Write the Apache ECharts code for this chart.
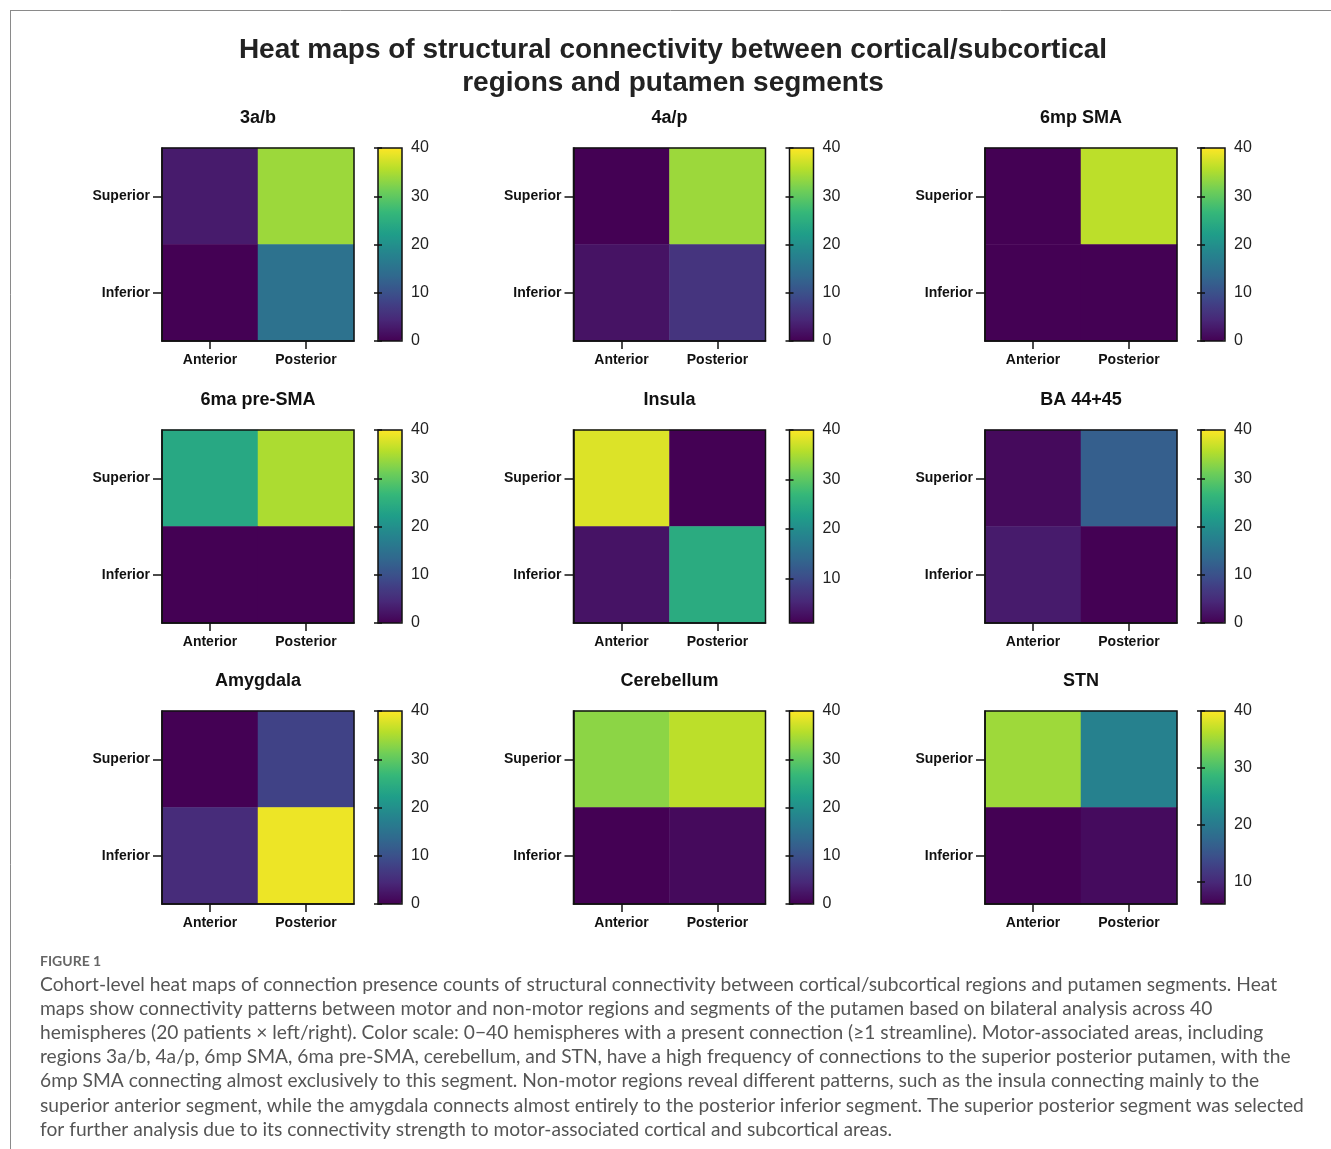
<!DOCTYPE html>
<html>
<head>
<meta charset="utf-8">
<script src="https://cdn.jsdelivr.net/npm/echarts@6/dist/echarts.min.js"></script>
<style>
html, body { margin: 0; padding: 0; background: #fff; }
#main { width: 1331px; height: 1149px; }
</style>
</head>
<body>
<div id="main"></div>
<script>
// regions (one heat map each) and putamen segments
var regions = ['3a/b', '4a/p', '6mp SMA', '6ma pre-SMA', 'Insula', 'BA 44+45', 'Amygdala', 'Cerebellum', 'STN'];
var segX = ['Anterior', 'Posterior'];
var segY = ['Inferior', 'Superior'];

// hemisphere counts
var superiorAnterior  = [3, 0, 0, 24, 38, 1, 0, 33, 35];
var superiorPosterior = [34, 34, 36, 35, 1, 12, 8, 36, 21];
var inferiorAnterior  = [0, 2, 0, 0, 3, 3, 5, 0, 6];
var inferiorPosterior = [15, 6, 0, 0, 25, 0, 39, 1, 7];

// colour bar range and tick labels per panel
var scaleMin = [0, 0, 0, 0, 1, 0, 0, 0, 6];
var scaleMax = [40, 40, 40, 40, 40, 40, 40, 40, 40];
var scaleTicks = [
    [0, 10, 20, 30, 40], [0, 10, 20, 30, 40], [0, 10, 20, 30, 40],
    [0, 10, 20, 30, 40], [10, 20, 30, 40], [0, 10, 20, 30, 40],
    [0, 10, 20, 30, 40], [0, 10, 20, 30, 40], [10, 20, 30, 40]
];

var captionLines = [
    'Cohort-level heat maps of connection presence counts of structural connectivity between cortical/subcortical regions and putamen segments. Heat',
    'maps show connectivity patterns between motor and non-motor regions and segments of the putamen based on bilateral analysis across 40',
    'hemispheres (20 patients \u00d7 left/right). Color scale: 0\u221240 hemispheres with a present connection (\u22651 streamline). Motor-associated areas, including',
    'regions 3a/b, 4a/p, 6mp SMA, 6ma pre-SMA, cerebellum, and STN, have a high frequency of connections to the superior posterior putamen, with the',
    '6mp SMA connecting almost exclusively to this segment. Non-motor regions reveal different patterns, such as the insula connecting mainly to the',
    'superior anterior segment, while the amygdala connects almost entirely to the posterior inferior segment. The superior posterior segment was selected',
    'for further analysis due to its connectivity strength to motor-associated cortical and subcortical areas.'
];

var viridis = ['#440154', '#482878', '#3e4989', '#31688e', '#26828e', '#1f9e89', '#35b779', '#6ece58', '#b5de2b', '#fde725'];

var chart = echarts.init(document.getElementById('main'));

var colX = [162, 573.5, 985];
var rowY = [148, 430, 711];
var boxW = 192, boxH = 193;
var barGap = 216, barW = 24;
var font = 'Liberation Sans';

var grid = [], xAxis = [], yAxis = [], series = [], visualMap = [];
var graphic = [];

regions.forEach(function (name, i) {
    var gx = colX[i % 3], gy = rowY[Math.floor(i / 3)];

    grid.push({ left: gx, top: gy, width: boxW, height: boxH, show: true,
        borderColor: '#111', borderWidth: 1.5, backgroundColor: 'transparent', z: 5 });
    grid.push({ left: gx + barGap, top: gy, width: barW, height: boxH, show: true,
        borderColor: '#111', borderWidth: 1.5, backgroundColor: 'transparent', z: 5 });

    xAxis.push({
        type: 'category', gridIndex: 2 * i, data: segX, z: 6,
        axisLine: { show: true, lineStyle: { color: '#111', width: 1.5 } },
        axisTick: { show: true, alignWithLabel: true, length: 8, lineStyle: { color: '#111', width: 1.5 } },
        axisLabel: { margin: 12, color: '#111', fontFamily: font, fontWeight: 'bold', fontSize: 14 },
        splitLine: { show: false }
    });
    xAxis.push({ type: 'value', gridIndex: 2 * i + 1, min: 0, max: 1, show: false });

    yAxis.push({
        type: 'category', gridIndex: 2 * i, data: segY, z: 6,
        axisLine: { show: true, lineStyle: { color: '#111', width: 1.5 } },
        axisTick: { show: true, alignWithLabel: true, length: 9, lineStyle: { color: '#111', width: 1.5 } },
        axisLabel: { margin: 12, color: '#111', fontFamily: font, fontWeight: 'bold', fontSize: 14 },
        splitLine: { show: false }
    });
    yAxis.push({
        type: 'value', gridIndex: 2 * i + 1, position: 'right', z: 6,
        min: scaleMin[i], max: scaleMax[i],
        axisLine: { show: false },
        axisTick: { show: true, inside: true, length: 4, customValues: scaleTicks[i],
            lineStyle: { color: '#111', width: 1.5 } },
        axisLabel: { margin: 9, color: '#222', fontFamily: font, fontSize: 16, customValues: scaleTicks[i] },
        splitLine: { show: false }
    });
    yAxis.push({
        type: 'value', gridIndex: 2 * i + 1, position: 'left', z: 6,
        min: scaleMin[i], max: scaleMax[i],
        axisLine: { show: false },
        axisTick: { show: true, inside: true, length: 4, customValues: scaleTicks[i],
            lineStyle: { color: '#111', width: 1.5 } },
        axisLabel: { show: false },
        splitLine: { show: false }
    });

    series.push({
        type: 'heatmap', name: name,
        xAxisIndex: 2 * i, yAxisIndex: 3 * i,
        data: [
            [0, 1, superiorAnterior[i]], [1, 1, superiorPosterior[i]],
            [0, 0, inferiorAnterior[i]], [1, 0, inferiorPosterior[i]]
        ],
        itemStyle: { borderWidth: 0 },
        emphasis: { disabled: true },
        silent: true
    });

    visualMap.push({
        type: 'continuous', seriesIndex: i,
        min: scaleMin[i], max: scaleMax[i],
        inRange: { color: viridis },
        calculable: false, hoverLink: false,
        left: gx + barGap, top: gy, padding: 0,
        itemWidth: barW, itemHeight: boxH, z: 1
    });

    graphic.push({
        type: 'text', x: gx + boxW / 2, y: gy - 30,
        style: { text: name, font: 'bold 18px "Liberation Sans"', fill: '#111',
            textAlign: 'center', textVerticalAlign: 'middle' }
    });
});

// frame
graphic.push({ type: 'line', shape: { x1: 10, y1: 10.5, x2: 1331, y2: 10.5 },
    style: { stroke: '#8a8a8a', lineWidth: 1 } });
graphic.push({ type: 'line', shape: { x1: 10.5, y1: 10, x2: 10.5, y2: 1149 },
    style: { stroke: '#8a8a8a', lineWidth: 1 } });

// main title
graphic.push({ type: 'text', x: 673, y: 50,
    style: { text: 'Heat maps of structural connectivity between cortical/subcortical',
        font: 'bold 28px "Liberation Sans"', fill: '#222', textAlign: 'center', textVerticalAlign: 'middle' } });
graphic.push({ type: 'text', x: 673, y: 83,
    style: { text: 'regions and putamen segments',
        font: 'bold 28px "Liberation Sans"', fill: '#222', textAlign: 'center', textVerticalAlign: 'middle' } });

// caption
graphic.push({ type: 'text', x: 40, y: 961,
    style: { text: 'FIGURE 1', font: 'bold 14px Lato', fill: '#666', textVerticalAlign: 'middle' } });
captionLines.forEach(function (line, k) {
    graphic.push({ type: 'text', x: 40, y: 984.5 + k * 24.2,
        style: { text: line, font: '19.2px Lato', fill: '#555', textVerticalAlign: 'middle' } });
});

var option = {
    backgroundColor: '#fff',
    animation: false,
    grid: grid,
    xAxis: xAxis,
    yAxis: yAxis,
    visualMap: visualMap,
    series: series,
    graphic: graphic
};
chart.setOption(option);
</script>
</body>
</html>
